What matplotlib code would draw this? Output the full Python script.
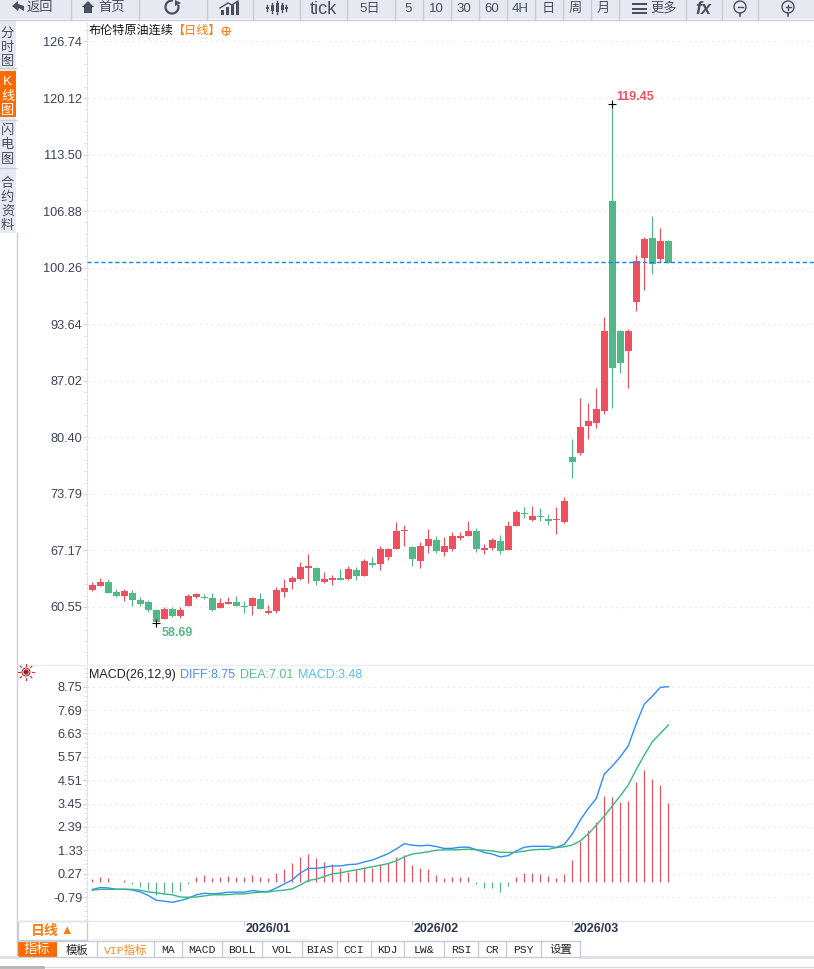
import matplotlib
matplotlib.use("Agg")
import matplotlib.pyplot as plt
from matplotlib.patches import Rectangle, Circle, Polygon, Arc
from matplotlib.ticker import FixedLocator, AutoMinorLocator

plt.rcParams['font.family'] = ['Liberation Sans', 'Noto Sans CJK SC', 'DejaVu Sans']

# daily candles
opens = [62.54, 63.01, 63.48, 62.31, 61.84, 62.19, 61.33, 61.14, 60.20, 59.15,
         60.28, 59.50, 60.67, 61.72, 61.68, 61.60, 60.43, 60.90, 61.14, 60.63,
         60.67, 61.49, 59.85, 60.08, 62.31, 63.48, 63.79, 65.12, 65.12, 63.48,
         63.71, 63.94, 63.83, 64.88, 64.18, 65.70, 65.58, 66.40, 67.34, 69.45,
         67.57, 65.93, 67.69, 68.39, 66.99, 67.34, 68.63, 68.86, 69.45, 67.22,
         67.46, 68.28, 67.22, 70.03, 71.55, 70.73, 71.20, 70.85, 70.73, 70.50,
         78.11, 78.58, 81.74, 82.09, 83.49, 108.07, 92.86, 90.52, 96.25, 101.40,
         103.74, 101.28, 103.39]
closes = [63.09, 63.44, 62.19, 61.84, 62.38, 61.37, 60.90, 60.20, 58.80, 60.28,
          59.50, 60.16, 61.80, 62.07, 61.56, 60.20, 60.98, 61.14, 60.67, 60.55,
          61.60, 60.32, 60.08, 62.54, 62.77, 63.94, 65.23, 65.35, 63.59, 63.83,
          63.94, 63.71, 65.00, 64.18, 65.93, 65.47, 67.34, 67.34, 69.45, 69.56,
          66.17, 67.69, 68.51, 67.11, 67.69, 68.86, 68.86, 69.45, 67.34, 67.46,
          68.39, 67.11, 70.03, 71.67, 71.48, 71.20, 71.09, 70.62, 70.85, 72.96,
          77.52, 81.62, 82.32, 83.73, 92.86, 88.52, 89.11, 92.86, 101.05, 103.62,
          100.70, 103.39, 100.82]
highs = [63.44, 63.91, 63.79, 62.62, 62.62, 62.50, 61.68, 61.33, 60.28, 60.51,
         60.51, 60.51, 62.03, 62.15, 62.03, 62.15, 61.60, 61.72, 61.80, 61.21,
         61.72, 62.15, 60.78, 62.85, 63.83, 64.18, 65.82, 66.75, 65.23, 64.65,
         64.30, 65.00, 65.35, 65.23, 66.17, 66.40, 67.69, 67.46, 70.50, 70.15,
         67.69, 68.16, 69.68, 68.86, 68.74, 69.33, 69.33, 70.62, 69.80, 67.92,
         68.63, 68.98, 70.62, 71.90, 72.26, 72.37, 72.14, 71.44, 72.26, 73.43,
         80.22, 85.02, 84.43, 86.19, 94.50, 119.45, 92.98, 93.09, 101.75, 103.86,
         106.32, 104.91, 103.51]
lows = [62.42, 63.01, 62.19, 61.72, 61.25, 60.67, 60.67, 59.96, 58.69, 59.15,
        59.38, 59.26, 60.67, 61.60, 61.49, 60.08, 60.43, 60.90, 60.67, 59.85,
        59.61, 60.32, 59.73, 59.85, 61.72, 62.66, 63.71, 63.36, 63.13, 63.36,
        63.13, 63.71, 63.71, 63.71, 64.18, 65.23, 64.88, 66.05, 67.34, 67.69,
        65.35, 65.12, 66.87, 66.87, 66.52, 67.11, 68.39, 68.86, 66.99, 66.75,
        67.22, 66.75, 67.22, 70.03, 70.97, 70.62, 70.62, 70.15, 69.10, 70.38,
        75.65, 78.34, 80.22, 81.50, 83.14, 83.84, 87.94, 86.19, 95.20, 97.65,
        99.53, 100.93, 100.82]

# MACD pane
diff = [-.45, -.36, -.38, -.44, -.44, -.47, -.56, -.72, -.94, -.98,
        -1.03, -.95, -.85, -.69, -.62, -.65, -.62, -.57, -.57, -.57,
        -.50, -.54, -.54, -.38, -.20, -.01, .30, .51, .51, .56,
        .62, .62, .68, .70, .80, .89, 1.03, 1.18, 1.39, 1.63,
        1.56, 1.53, 1.56, 1.50, 1.41, 1.42, 1.47, 1.47, 1.36, 1.23,
        1.16, 1.03, 1.09, 1.30, 1.47, 1.51, 1.51, 1.51, 1.46, 1.60,
        2.07, 2.70, 3.23, 3.68, 4.79, 5.15, 5.57, 6.07, 7.08, 7.96,
        8.32, 8.72, 8.75]
dea = [-.48, -.44, -.44, -.44, -.44, -.44, -.48, -.56, -.60, -.65,
       -.69, -.79, -.80, -.79, -.74, -.69, -.69, -.68, -.65, -.65,
       -.60, -.57, -.56, -.51, -.48, -.42, -.24, -.04, .02, .14,
       .26, .30, .38, .44, .51, .58, .65, .73, .85, 1.03,
       1.16, 1.21, 1.26, 1.33, 1.35, 1.35, 1.36, 1.38, 1.35, 1.33,
       1.30, 1.24, 1.23, 1.24, 1.29, 1.35, 1.37, 1.37, 1.45, 1.49,
       1.57, 1.76, 2.07, 2.47, 2.88, 3.34, 3.80, 4.29, 5.00, 5.65,
       6.25, 6.63, 7.01]
macd_bars = [.03, .12, .08, -.10, -.01, -.20, -.33, -.47, -.69, -.65,
             -.62, -.50, -.20, .14, .21, .09, .12, .17, .12, .12,
             .21, .12, .05, .30, .48, .76, 1.03, 1.17, .98, .80,
             .71, .53, .35, .44, .58, .53, .71, .76, 1.03, 1.12,
             .67, .53, .48, .21, .08, .12, .12, .12, -.20, -.38,
             -.38, -.56, -.29, .12, .30, .30, .25, .165, .075, .25,
             .89, 1.75, 2.25, 2.61, 3.79, 3.75, 3.52, 3.57, 4.43, 4.97,
             4.56, 4.29, 3.48]
macd_base = -0.09

price_ticks = [126.74, 120.12, 113.50, 106.88, 100.26, 93.64, 87.02, 80.40, 73.79, 67.17, 60.55]
macd_ticks = [8.75, 7.69, 6.63, 5.57, 4.51, 3.45, 2.39, 1.33, 0.27, -0.79]
last_price = 100.95
month_pos = [19, 40, 60]
month_labels = ['2026/01', '2026/02', '2026/03']
top_buttons = ['tick', '5日', '5', '10', '30', '60', '4H', '日', '周', '月']
top_button_x = [323, 370, 408, 436, 464, 492, 520, 548, 575, 603]
top_seps = [71, 139, 207, 253, 300, 347, 395, 423, 451, 479, 507, 535, 563, 591, 619, 686, 722, 758]
tab_names = ['模板', 'VIP指标', 'MA', 'MACD', 'BOLL', 'VOL', 'BIAS', 'CCI', 'KDJ', 'LW&', 'RSI', 'CR', 'PSY', '设置']
tab_edges = [57, 97, 154, 182, 222, 262, 302, 337, 371, 404, 444, 478, 506, 541, 580]

RED = '#ef5060'
GREEN = '#52b888'
AXIS = '#dfe3ea'
GRID = '#e8e9ec'
LABEL = '#3a4058'
W, H = 814, 969

fig = plt.figure(figsize=(W / 100, H / 100), dpi=100)


def px_axes(l, t, r, b):
    return fig.add_axes([l / W, 1 - b / H, (r - l) / W, (b - t) / H])


def style_pane(ax, ticks):
    ax.set_xlim((87 - 92.3) / 8, (814 - 92.3) / 8)
    for s in ['top', 'right', 'bottom']:
        ax.spines[s].set_visible(False)
    ax.spines['left'].set_color(AXIS)
    ax.set_xticks([])
    ax.yaxis.set_major_locator(FixedLocator(ticks))
    ax.yaxis.set_minor_locator(AutoMinorLocator(5))
    ax.set_yticklabels(['%.2f' % t for t in ticks])
    ax.tick_params(axis='y', which='major', length=3, color='#c9cedb', labelsize=9.2, labelcolor=LABEL, pad=0.5)
    ax.tick_params(axis='y', which='minor', length=2, color='#d8dde8')
    ax.grid(axis='y', which='major', color=GRID, lw=0.9, linestyle=(0, (1.5, 3)))
    ax.set_axisbelow(True)
    ax.patch.set_alpha(0)


# chrome behind and around the panes, in pixel coords
ui = fig.add_axes([0, 0, 1, 1])
ui.set_xlim(0, W)
ui.set_ylim(H, 0)
ui.axis('off')
BAR = '#e7e9f0'
EDGE = '#c8ccd6'
ICON = '#4a4f60'
ui.add_patch(Rectangle((0, 0), W, 19, fc=BAR, ec='none'))
ui.plot([0, W], [19.5, 19.5], color=EDGE, lw=1)
for s in top_seps:
    ui.plot([s, s], [0, 19], color=EDGE, lw=1)
for name, x in zip(top_buttons, top_button_x):
    size = 13 if name == 'tick' else 9.5
    ui.text(x, 9, name, ha='center', va='center', fontsize=size, color=ICON)
ui.text(27, 8, '返回', ha='left', va='center', fontsize=9.5, color=ICON)
ui.text(98, 8, '首页', ha='left', va='center', fontsize=9.5, color=ICON)
ui.text(650, 8, '更多', ha='left', va='center', fontsize=9.5, color=ICON)
ui.add_patch(Polygon([[12, 6], [18, 1], [18, 4], [24, 6], [24, 11], [19, 8], [18, 11]], fc=ICON, ec='none'))
ui.add_patch(Polygon([[88, 1], [94, 7], [92, 7], [92, 13], [84, 13], [84, 7], [82, 7]], fc=ICON, ec='none'))
ui.add_patch(Arc((172, 7), 13, 13, theta1=-20, theta2=280, color=ICON, lw=1.6))
ui.add_patch(Polygon([[175, 0], [181, 3], [175, 6]], fc=ICON, ec='none'))
for x, h in zip([221, 226, 231, 236], [5, 8, 10, 13]):
    ui.add_patch(Rectangle((x, 15 - h), 3, h, fc=ICON, ec='none'))
ui.plot([220, 228, 232, 238], [8, 3, 5, 1], color=ICON, lw=1)
for x, t, b in zip([267, 272, 277, 282, 286], [5, 3, 1, 3, 5], [11, 13, 14, 12, 11]):
    ui.plot([x, x], [t, b], color=ICON, lw=1)
    ui.add_patch(Rectangle((x - 1.5, t + 2), 3, b - t - 4, fc=ICON, ec='none'))
for y in [4, 8.5, 13]:
    ui.add_patch(Rectangle((632, y - 1), 15, 2.4, fc=ICON, ec='none'))
ui.text(703, 9, 'fx', ha='center', va='center', fontsize=13, fontweight='bold', style='italic', color=ICON)
for x, plus in [(740, False), (788, True)]:
    ui.add_patch(Circle((x, 7), 6, fc='none', ec=ICON, lw=1))
    ui.plot([x - 2.5, x + 2.5], [7, 7], color=ICON, lw=1)
    ui.plot([x, x], [13, 16], color=ICON, lw=1.2)
    if plus:
        ui.plot([x, x], [4.5, 9.5], color=ICON, lw=1)

# left side tabs
ui.add_patch(Rectangle((0, 20), 16, 213, fc=BAR, ec='none'))
ui.add_patch(Rectangle((0, 71), 16, 46, fc='#ff6a00', ec='none'))
for y in [68, 120, 168]:
    ui.plot([0, 16], [y, y], color=EDGE, lw=1)
for ch, y in zip('分时图', [34, 48, 62]):
    ui.text(7.5, y, ch, ha='center', va='center', fontsize=9.5, color=ICON)
for ch, y in zip('K线图', [82, 97, 111]):
    ui.text(7.5, y, ch, ha='center', va='center', fontsize=9.5, color='white')
for ch, y in zip('闪电图', [131, 145, 160]):
    ui.text(7.5, y, ch, ha='center', va='center', fontsize=9.5, color=ICON)
for ch, y in zip('合约资料', [184, 198, 212, 226]):
    ui.text(7.5, y, ch, ha='center', va='center', fontsize=9.5, color=ICON)
ui.plot([16.5, 16.5], [233, 957], color=EDGE, lw=1)

# pane separators and header text
ui.plot([17, W], [664.5, 664.5], color='#eceef2', lw=1)
ui.text(89, 31, '布伦特原油连续', ha='left', va='center', fontsize=8.7, color='#111111')
ui.text(173, 31, '【日线】', ha='left', va='center', fontsize=8.7, color='#ff7a10')
ui.add_patch(Circle((226, 31), 4, fc='none', ec='#ff7a10', lw=0.7))
ui.plot([222, 230], [31, 31], color='#ff7a10', lw=0.7)
ui.plot([226, 226], [27, 35], color='#ff7a10', lw=0.7)

ui.add_patch(Circle((26, 672), 2.6, fc='#e00000', ec='none'))
ui.add_patch(Circle((26, 672), 4, fc='none', ec='#222222', lw=0.6))
for dx, dy in [(6, 0), (-6, 0), (0, 6), (0, -6), (4.5, 4.5), (-4.5, 4.5), (4.5, -4.5), (-4.5, -4.5)]:
    ui.plot([26 + dx, 26 + dx * 1.3], [672 + dy, 672 + dy * 1.3], color='#ff2020', lw=0.8)
ui.text(89, 675, 'MACD(26,12,9)', ha='left', va='center', fontsize=9, color='#222222')
ui.text(180, 675, 'DIFF:8.75', ha='left', va='center', fontsize=9, color='#4a90f5')
ui.text(240, 675, 'DEA:7.01', ha='left', va='center', fontsize=9, color='#5cc08c')
ui.text(298, 675, 'MACD:3.48', ha='left', va='center', fontsize=9, color='#55bdf0')

# bottom strip
ui.plot([17, W], [921, 921], color='#e4e6ea', lw=1)
ui.add_patch(Rectangle((17.5, 921), 69, 19, fc='white', ec=EDGE, lw=1))
ui.text(31, 931, '日线', ha='left', va='center', fontsize=10, fontweight='bold', color='#ff7a10')
ui.text(60, 931, '▲', ha='left', va='center', fontsize=9, color='#ff7a10')
ui.plot([92, 308], [938.5, 938.5], color='#eceef2', lw=0.8)
ui.add_patch(Rectangle((17, 941), 40, 16, fc='#ff6a00', ec='none'))
ui.text(37, 950, '指标', ha='center', va='center', fontsize=9.5, color='white')
ui.plot([17, 580], [941, 941], color=EDGE, lw=1)
ui.plot([17, 580], [957, 957], color=EDGE, lw=1)
ui.plot([580, W], [957, 957], color='#dcdfe5', lw=2)
ui.plot([0, 17], [957, 957], color='#dcdfe5', lw=2)
for i, name in enumerate(tab_names):
    l, r = tab_edges[i], tab_edges[i + 1]
    ui.plot([r, r], [941, 957], color=EDGE, lw=1)
    c = '#ff8a1e' if name.startswith('VIP') else '#222222'
    fam = ['Liberation Mono', 'Noto Sans CJK SC']
    ui.text((l + r) / 2, 950, name, ha='center', va='center', fontsize=8.2, color=c, family=fam)
ui.plot([0, W], [966.5, 966.5], color='#dadada', lw=1)
ui.plot([0, 43], [966.5, 966.5], color='#b4b4b4', lw=2)

# price pane
ax = px_axes(87, 22, W, 663)
idx = list(range(len(opens)))
style_pane(ax, price_ticks)
ax.set_ylim(53.995, 129.02)
for i in idx:
    c = RED if closes[i] >= opens[i] else GREEN
    wick = ax.vlines(i, lows[i], highs[i], color=c, lw=0.85, zorder=2)
    wick.set_snap(True)
    body = max(abs(closes[i] - opens[i]), 0.12)
    ax.bar(i, body, bottom=min(opens[i], closes[i]), width=0.875, color=c, lw=0, zorder=3)
ax.axhline(last_price, color='#0a84ff', lw=1, linestyle=(0, (3, 2)), zorder=4)
hi = highs.index(max(highs))
lo = lows.index(min(lows))
ax.plot(hi, highs[hi], '+', color='black', ms=6, mew=0.8, zorder=5)
ax.plot(lo, lows[lo], '+', color='black', ms=6, mew=0.8, zorder=5)
ax.annotate('%.2f' % highs[hi], (hi, highs[hi]), xytext=(3, 5), textcoords='offset points',
            fontsize=9, fontweight='bold', color=RED, ha='left', va='center')
ax.annotate('%.2f' % lows[lo], (lo, lows[lo]), xytext=(4, -3), textcoords='offset points',
            fontsize=9, fontweight='bold', color=GREEN, ha='left', va='top')

# macd pane
ax2 = px_axes(87, 665, W, 921)
style_pane(ax2, macd_ticks)
ax2.set_ylim(-1.878, 9.734)
for i in idx:
    c = RED if macd_bars[i] > macd_base else GREEN
    bar = ax2.vlines(i, macd_base, macd_bars[i], color=c, lw=0.85, zorder=2)
    bar.set_snap(True)
ax2.plot(idx, diff, color='#2f8cff', lw=1, zorder=3)
ax2.plot(idx, dea, color='#35b883', lw=1, zorder=3)

# month axis sits in the strip under the macd pane
ax3 = px_axes(87, 921, W, 940)
ax3.set_xlim(ax2.get_xlim())
ax3.axis('off')
ax3.set_ylim(19, 0)
for pos, lab in zip(month_pos, month_labels):
    ax3.vlines(pos, 0, 5, color='#c9cedb', lw=1)
    ax3.annotate(lab, (pos, 8.5), xytext=(1, 0), textcoords='offset points', ha='left', va='center',
                 fontsize=9, fontweight='bold', color='#2e3550')

fig.savefig('out.png', dpi=100)
